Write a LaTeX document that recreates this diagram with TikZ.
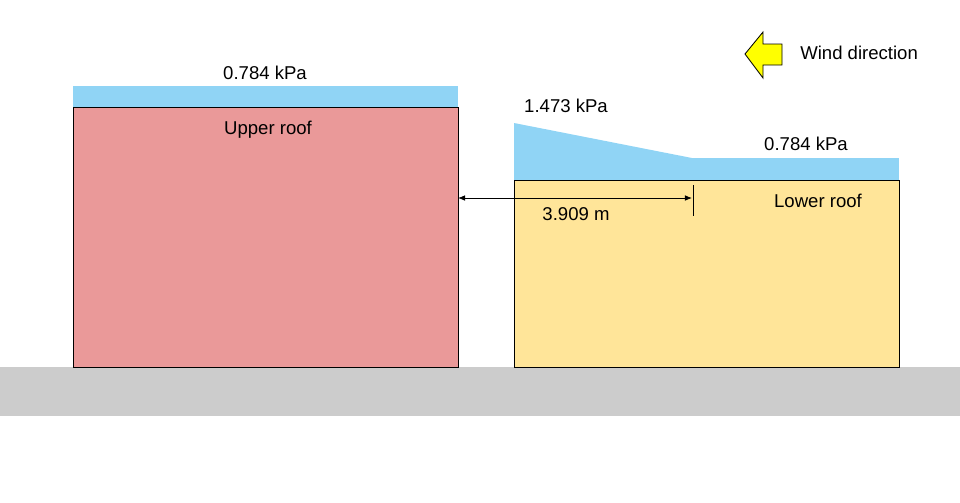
\documentclass[tikz,border=0pt]{standalone}
\usepackage{fontspec}
\setmainfont{Liberation Sans}
\definecolor{loadblue}{RGB}{144, 212, 245}
\definecolor{upperpink}{RGB}{234, 153, 153}
\definecolor{loweryellow}{RGB}{255, 229, 153}
\definecolor{groundgray}{RGB}{204, 204, 204}
\definecolor{windyellow}{RGB}{255, 255, 0}
\usetikzlibrary{arrows.meta, positioning}

\begin{document}
\begin{tikzpicture}[x=0.025cm, y=-0.025cm,
  building/.style={draw=black, line width=0.6pt},
  load/.style={fill=loadblue, draw=none},
  lbl/.style={font=\fontsize{13.2}{15}\selectfont, inner sep=0pt}]
  \useasboundingbox (0,0) rectangle (960,502);

  % Ground
  \fill[groundgray] (0,367) rectangle (960,416);

  % Upper roof
  \fill[load] (73,86) rectangle (458,107);
  \draw[building, fill=upperpink] (73,107) rectangle (458,367);
  \coordinate (upperedge) at (458,198);
  \node[lbl] (upperload) at (265,73) {0.784 kPa};
  \node[lbl] (uppername) at (268,130) {Upper roof};

  % Lower roof with drift load
  \fill[load] (514,123) -- (692,158) -- (514,158) -- cycle;
  \fill[load] (514,158) rectangle (899,180);
  \draw[building, fill=loweryellow] (514,180) rectangle (899,367);
  \node[lbl] (driftload) at (566,106) {1.473 kPa};
  \node[lbl] (lowerload) at (806,144) {0.784 kPa};
  \node[lbl] (lowername) at (818,201) {Lower roof};

  % Drift length
  \coordinate (drifttop) at (693,185);
  \coordinate (driftbot) at (693,216);
  \coordinate (driftend) at (692,198);
  \draw[line width=0.6pt] (drifttop) -- (driftbot);
  \draw[{Latex[length=5pt,width=4pt]}-{Latex[length=5pt,width=4pt]}, line width=0.6pt] (upperedge) -- (driftend);
  \node[lbl] (driftlen) at (576,214) {3.909 m};

  % Wind
  \draw[fill=windyellow, line width=0.6pt] (745,54) -- (763,32) -- (763,44) -- (782,44) -- (782,65) -- (763,65) -- (763,78) -- cycle;
  \node[lbl, anchor=west] (wind) at (800,53) {Wind direction};
\end{tikzpicture}
\end{document}
